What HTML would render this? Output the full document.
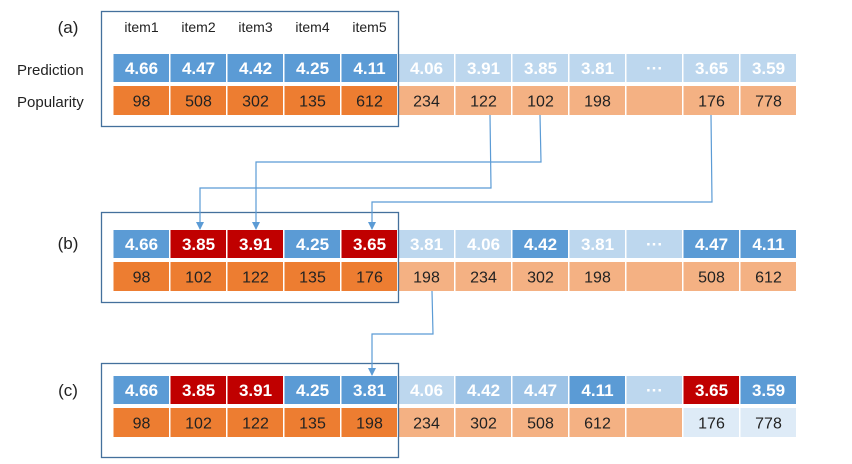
<!DOCTYPE html>
<html><head><meta charset="utf-8">
<style>
body{margin:0;background:#fff;width:852px;height:464px;overflow:hidden}
svg{display:block;font-family:"Liberation Sans",sans-serif}
</style></head><body>
<svg id="d" width="852" height="464" viewBox="0 0 852 464">
<defs><marker id="ah" markerWidth="8" markerHeight="8" refX="4" refY="7" orient="0" markerUnits="userSpaceOnUse"><path d="M0,0 L8,0 L4,8 Z" fill="#5b9bd5"/></marker></defs>
</svg>
<script>
// data
const itemLabels = ["item1","item2","item3","item4","item5"];
const predA = ["4.66","4.47","4.42","4.25","4.11","4.06","3.91","3.85","3.81","···","3.65","3.59"];
const popA  = ["98","508","302","135","612","234","122","102","198","","176","778"];
const predColA = ["B","B","B","B","B","L","L","L","L","L","L","L"];
const popColA  = ["O","O","O","O","O","P","P","P","P","P","P","P"];
const predB = ["4.66","3.85","3.91","4.25","3.65","3.81","4.06","4.42","3.81","···","4.47","4.11"];
const popB  = ["98","102","122","135","176","198","234","302","198","","508","612"];
const predColB = ["B","R","R","B","R","L","L","B","L","L","B","B"];
const popColB  = ["O","O","O","O","O","P","P","P","P","P","P","P"];
const predC = ["4.66","3.85","3.91","4.25","3.81","4.06","4.42","4.47","4.11","···","3.65","3.59"];
const popC  = ["98","102","122","135","198","234","302","508","612","","176","778"];
const predColC = ["B","R","R","B","B","L","M","M","B","L","R","B"];
const popColC  = ["O","O","O","O","O","P","P","P","P","P","V","V"];
// arrows: [from column, from panel, to column, to panel, bend depth, from x offset, to x offset]
const arrows = [[6,"a",1,"b",73,7,2],[7,"a",2,"b",47,0,1],[10,"a",4,"b",87,0,3],[5,"b",4,"c",43,6,3]];

const colors={B:"#5b9bd5",L:"#bdd7ee",M:"#9dc3e6",R:"#c00000",O:"#ed7d31",P:"#f4b183",V:"#deebf7"};
const x0=113,cw=57;
const panels={a:{py:54,qy:86,box:[101,11,297,115],lab:"(a)",ly:27},
              b:{py:230,qy:262,box:[101,212,297,90],lab:"(b)",ly:243},
              c:{py:376,qy:408,box:[101,363,297,94],lab:"(c)",ly:390}};
const svg=document.getElementById('d');
const NS="http://www.w3.org/2000/svg";
function mk(t,a,p){const e=document.createElementNS(NS,t);for(const k in a)e.setAttribute(k,a[k]);(p||svg).appendChild(e);return e;}
const cx=i=>x0+i*cw;

function row(vals,cols,y,h,name,white){
  vals.forEach((v,i)=>{
    const g=mk('g',{});
    
    
    mk('rect',{x:cx(i)+0.5,y:y,width:cw-1.5,height:h,fill:colors[cols[i]]},g);
    const t=mk('text',{x:cx(i)+cw/2,y:y+h/2+6,'text-anchor':'middle','font-size':white?17:16,'font-weight':white?'bold':'normal',fill:white?'#fff':'#222'},g);
    t.textContent=v;
  });
}
const sets={a:[predA,predColA,popA,popColA],b:[predB,predColB,popB,popColB],c:[predC,predColC,popC,popColC]};
for(const k in panels){
  const p=panels[k],s=sets[k];
  row(s[0],s[1],p.py,28,'prediction-'+k,true);
  row(s[2],s[3],p.qy,29,'popularity-'+k,false);
  const b=mk('rect',{x:p.box[0]+0.5,y:p.box[1]+0.5,width:p.box[2],height:p.box[3],fill:'none',stroke:'#44709c','stroke-width':1.3});
  
  
  const l=mk('text',{x:68,y:p.ly+6,'text-anchor':'middle','font-size':17,fill:'#222'});
  l.textContent=p.lab;
  
  
}
itemLabels.forEach((t,i)=>{
  const e=mk('text',{x:cx(i)+cw/2,y:32,'text-anchor':'middle','font-size':14,fill:'#222'});
  e.textContent=t;
  
  
});
[["Prediction",75],["Popularity",107]].forEach(([t,y])=>{
  const e=mk('text',{x:17,y:y,'font-size':15,fill:'#222'});
  e.textContent=t;
  
  
});
arrows.forEach(([fc,fp,tc,tp,d,fo,to])=>{
  const x1=cx(fc)+cw/2-0.5+fo,y1=panels[fp].qy+29,x2=cx(tc)+cw/2-0.5+to,y2=panels[tp].py;
  const ym=y1+d;
  const e=mk('path',{d:`M${x1},${y1} L${x1+1},${ym} L${x2},${ym} L${x2},${y2-1}`,fill:'none',stroke:'#5b9bd5','stroke-width':1.2,'marker-end':'url(#ah)'});
  
  
});
</script>
</body></html>
